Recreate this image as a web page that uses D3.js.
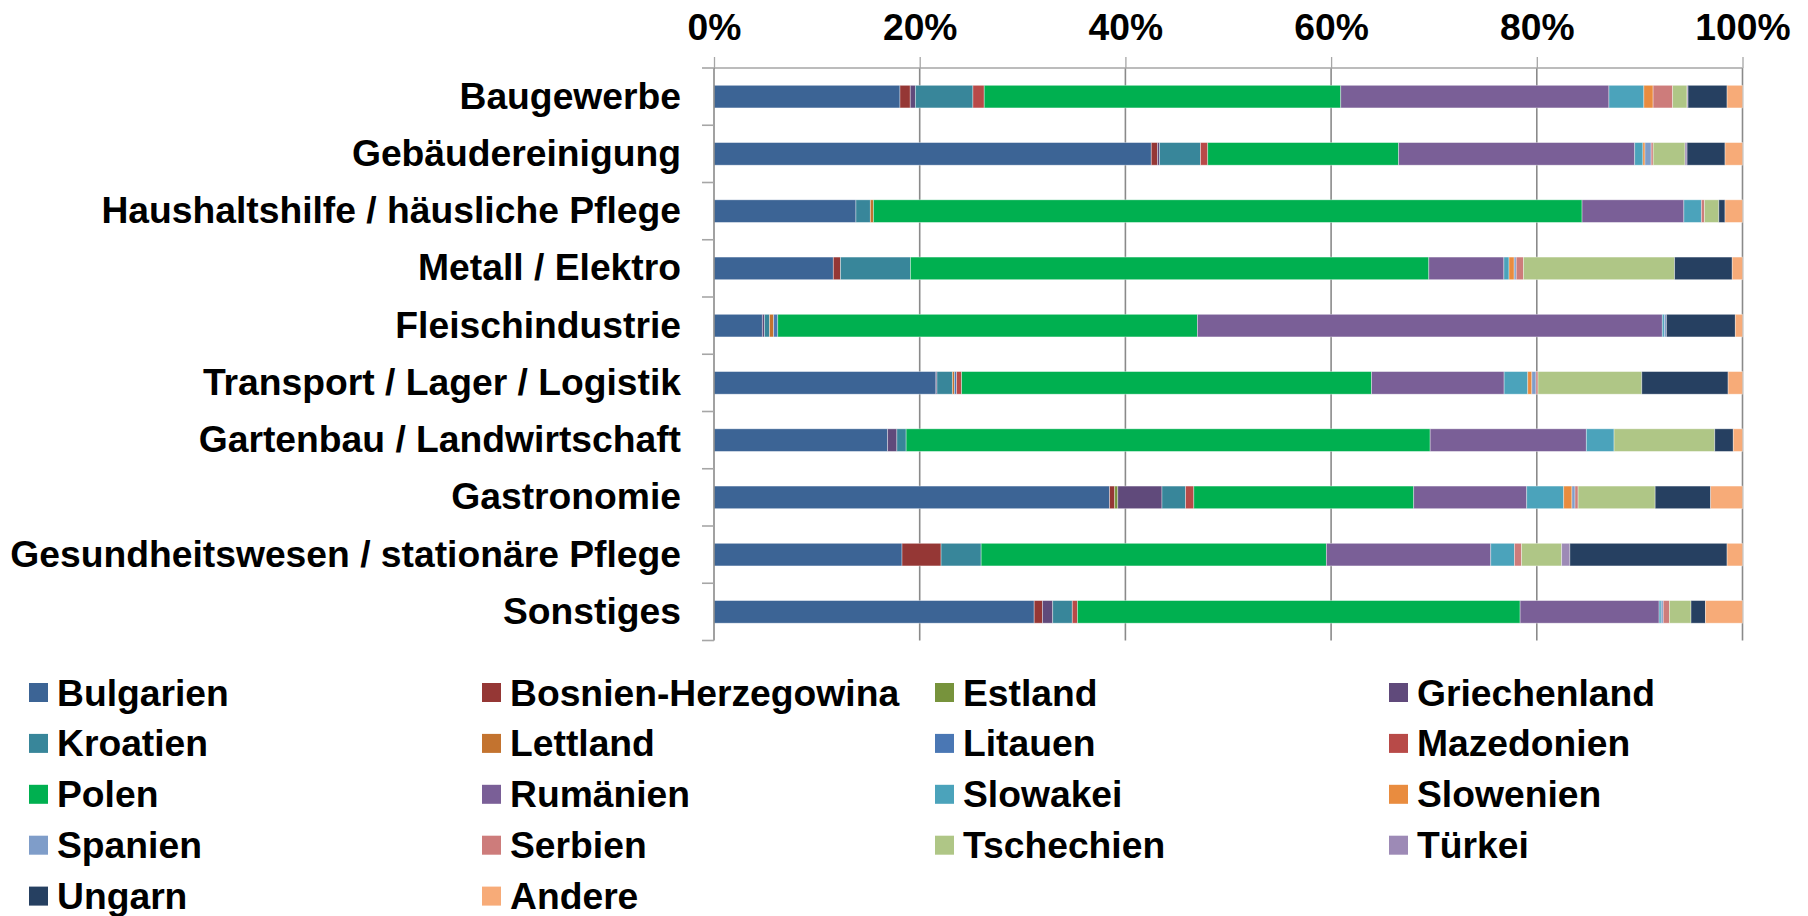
<!DOCTYPE html>
<html lang="de">
<head>
<meta charset="utf-8">
<title>Herkunftsländer nach Branche</title>
<script src="https://d3js.org/d3.v7.min.js"></script>
<style>
  * { margin:0; padding:0; box-sizing:border-box; }
  body { background:#fff; width:1808px; height:916px; overflow:hidden; }
  svg text { font-family:'Liberation Sans', Arial, sans-serif; font-weight:700; fill:#000; }
</style>
</head>
<body>
<svg id="chart" width="1808" height="916"></svg>
<script>
// Branchen (von oben nach unten)
const categories = [
  'Baugewerbe', 'Gebäudereinigung', 'Haushaltshilfe / häusliche Pflege',
  'Metall / Elektro', 'Fleischindustrie', 'Transport / Lager / Logistik',
  'Gartenbau / Landwirtschaft', 'Gastronomie',
  'Gesundheitswesen / stationäre Pflege', 'Sonstiges'
];

const countries = [
  'Bulgarien', 'Bosnien-Herzegowina', 'Estland', 'Griechenland',
  'Kroatien', 'Lettland', 'Litauen', 'Mazedonien',
  'Polen', 'Rumänien', 'Slowakei', 'Slowenien',
  'Spanien', 'Serbien', 'Tschechien', 'Türkei',
  'Ungarn', 'Andere'
];

const colors = [
  '#3c6495', '#953735', '#77933c', '#604a7b',
  '#38869a', '#c3732f', '#4a77b4', '#b84a48',
  '#00b050', '#7a5f97', '#4ba3bb', '#e98c3f',
  '#7f9dc9', '#cd7c7b', '#afc686', '#9d8ab6',
  '#264061', '#f7ab78'
];

// Anteile in %, je Land in der Reihenfolge der Branchen
const bulgarien    = [18.1, 42.6, 13.8, 11.6,  4.7, 21.6, 16.9, 38.5, 18.3, 31.1];
const bosnien      = [ 1.0,  0.6,  0,    0.7,  0,    0,    0,    0.5,  3.8,  0.8];
const estland      = [ 0,    0,    0,    0,    0,    0,    0,    0.3,  0,    0  ];
const griechenland = [ 0.5,  0.2,  0,    0,    0.2,  0.1,  0.9,  4.3,  0,    1.0];
const kroatien     = [ 5.6,  4.0,  1.4,  6.8,  0.5,  1.5,  0.9,  2.3,  3.9,  1.9];
const lettland     = [ 0,    0,    0.3,  0,    0.4,  0.2,  0,    0,    0,    0  ];
const litauen      = [ 0,    0,    0,    0,    0.4,  0.2,  0,    0,    0,    0  ];
const mazedonien   = [ 1.1,  0.7,  0,    0,    0,    0.5,  0,    0.8,  0,    0.5];
const polen        = [34.7, 18.6, 68.9, 50.4, 40.8, 39.9, 51.0, 21.4, 33.6, 43.0];
const rumaenien    = [26.1, 23.0,  9.9,  7.3, 45.2, 12.9, 15.2, 11.0, 16.0, 13.5];
const slowakei     = [ 3.4,  0.8,  1.7,  0.5,  0.2,  2.3,  2.7,  3.6,  2.3,  0.2];
const slowenien    = [ 0.9,  0.2,  0,    0.5,  0,    0.4,  0,    0.8,  0,    0  ];
const spanien      = [ 0,    0.6,  0,    0.2,  0.2,  0.4,  0,    0.3,  0,    0.2];
const serbien      = [ 1.9,  0.2,  0.3,  0.7,  0,    0.2,  0,    0.3,  0.7,  0.6];
const tschechien   = [ 1.4,  3.1,  1.4, 14.7,  0,   10.1,  9.8,  7.5,  3.9,  2.1];
const tuerkei      = [ 0.1,  0.2,  0,    0,    0,    0,    0,    0,    0.8,  0  ];
const ungarn       = [ 3.8,  3.7,  0.6,  5.6,  6.7,  8.4,  1.8,  5.4, 15.3,  1.4];
const andere       = [ 1.5,  1.7,  1.7,  1.0,  0.7,  1.4,  0.9,  3.1,  1.5,  3.6];

const seriesValues = [
  bulgarien, bosnien, estland, griechenland, kroatien, lettland, litauen,
  mazedonien, polen, rumaenien, slowakei, slowenien, spanien, serbien,
  tschechien, tuerkei, ungarn, andere
];

const ticks = [0, 0.2, 0.4, 0.6, 0.8, 1];

// table for d3.stack
const rows = categories.map((c, i) => {
  const r = { cat: c };
  countries.forEach((k, j) => { r[k] = seriesValues[j][i]; });
  return r;
});

const svg = d3.select('#chart');
const plotL = 714, plotR = 1742.5, plotT = 68, plotB = 640.5;
const barH = 22.6;
const fontSize = 37.25;

const x = d3.scaleLinear().domain([0, 1]).range([plotL, plotR]);
const y = d3.scaleBand().domain(categories).range([plotT, plotB]).padding(0);
const color = d3.scaleOrdinal().domain(countries).range(colors);

const stacked = d3.stack().keys(countries).offset(d3.stackOffsetExpand)(rows);

// gridlines
svg.append('g')
  .selectAll('line')
  .data(ticks.slice(1))
  .join('line')
  .attr('x1', d => x(d)).attr('x2', d => x(d))
  .attr('y1', plotT).attr('y2', plotB)
  .attr('stroke', '#8a8a8a').attr('stroke-width', 1.6);

// bars
svg.append('g')
  .selectAll('g')
  .data(stacked)
  .join('g')
  .attr('fill', d => color(d.key))
  .selectAll('rect')
  .data(d => d.filter(s => s[1] - s[0] > 0))
  .join('rect')
  .attr('x', d => x(d[0]))
  .attr('width', d => x(d[1]) - x(d[0]))
  .attr('y', d => y(d.data.cat) + (y.bandwidth() - barH) / 2)
  .attr('height', barH)
  .attr('stroke', 'rgba(255,255,255,0.45)')
  .attr('stroke-width', 0.8);

// top value axis
const xAxis = svg.append('g')
  .attr('transform', `translate(0,${plotT})`)
  .call(d3.axisTop(x).tickValues(ticks).tickFormat(d3.format('.0%')).tickSize(11).tickPadding(17));
xAxis.select('.domain').attr('stroke', '#a6a6a6').attr('stroke-width', 1.6)
  .attr('d', `M${plotL},0H${plotR}`);
xAxis.selectAll('.tick line').attr('stroke', '#a6a6a6').attr('stroke-width', 1.3);
xAxis.selectAll('.tick text').attr('font-size', fontSize).attr('font-family', "'Liberation Sans', Arial, sans-serif")
  .attr('font-weight', 700).attr('fill', '#000');

// left category axis
const yAxis = svg.append('g')
  .attr('transform', `translate(${plotL},0)`)
  .call(d3.axisLeft(y).tickSize(0).tickPadding(33));
yAxis.select('.domain').attr('stroke', '#8a8a8a').attr('stroke-width', 1.6)
  .attr('d', `M0,${plotT}V${plotB}`);
yAxis.selectAll('.tick text').attr('font-size', fontSize).attr('font-family', "'Liberation Sans', Arial, sans-serif")
  .attr('font-weight', 700).attr('fill', '#000');

const bounds = categories.map(c => y(c)).concat([plotB]);
svg.append('g')
  .selectAll('line')
  .data(bounds)
  .join('line')
  .attr('x1', plotL - 12).attr('x2', plotL)
  .attr('y1', d => d).attr('y2', d => d)
  .attr('stroke', '#a6a6a6').attr('stroke-width', 1.6);

// legend
const legX = [29, 482, 935, 1389];
const legY0 = 692.5, legDy = 50.9;
const leg = svg.append('g')
  .selectAll('g')
  .data(countries)
  .join('g')
  .attr('transform', (d, i) => `translate(${legX[i % 4]},${legY0 + Math.floor(i / 4) * legDy})`);
leg.append('rect')
  .attr('x', 0).attr('y', -9.5).attr('width', 19).attr('height', 19)
  .attr('fill', d => color(d));
leg.append('text')
  .attr('x', 28).attr('y', 0).attr('dy', '0.35em')
  .attr('font-size', fontSize)
  .text(d => d);
</script>
</body>
</html>
